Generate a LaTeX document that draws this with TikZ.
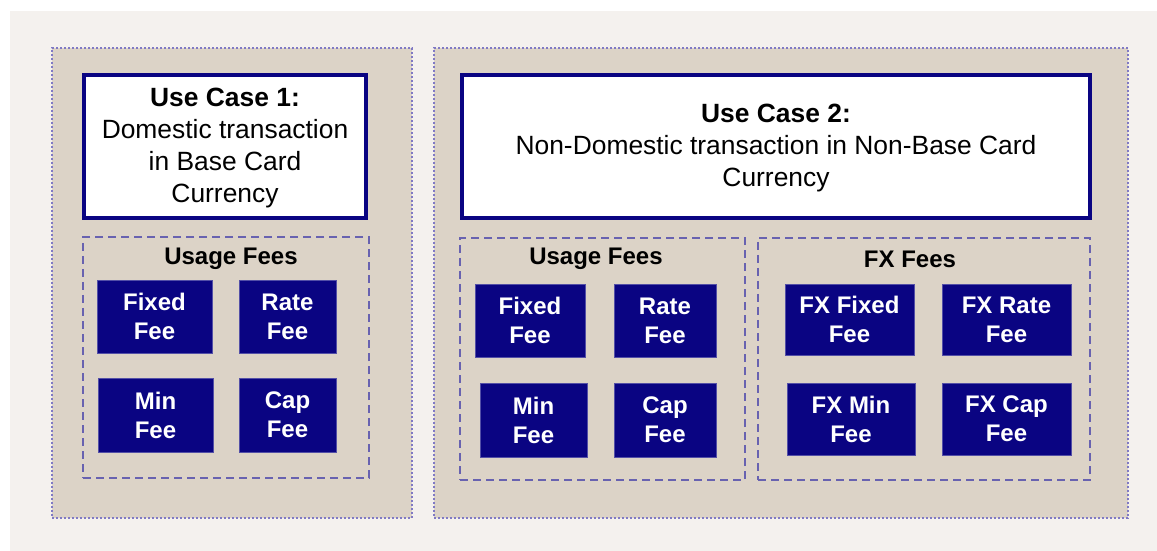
\documentclass[tikz,border=0pt]{standalone}
\usepackage{fontspec}
\setmainfont{Liberation Sans}
\usetikzlibrary{positioning}

\definecolor{navy}{RGB}{10,4,130}
\definecolor{panelfill}{RGB}{220,211,199}
\definecolor{pagefill}{RGB}{244,241,238}
\definecolor{dotline}{RGB}{128,122,196}
\definecolor{dashline}{RGB}{104,98,176}

\begin{document}
\begin{tikzpicture}[x=0.5pt,y=-0.5pt,
		panel/.style={rectangle,draw=dotline,densely dotted,line width=1pt,fill=panelfill},
		usecase/.style={rectangle,draw=navy,line width=2pt,fill=white,align=center,
			font=\fontsize{13.2}{16}\selectfont},
		group/.style={rectangle,draw=dashline,dashed,dash pattern=on 4pt off 2.5pt,line width=0.7pt},
		grouptitle/.style={font=\fontsize{12}{14}\selectfont\bfseries,inner sep=0pt},
		fee/.style={rectangle,draw=navy!70!white,line width=0.4pt,fill=navy,text=white,align=center,
			inner sep=0pt,font=\fontsize{12}{14.5}\selectfont\bfseries}]
		\useasboundingbox (0,0) rectangle (1157,551);
		\fill[white] (0,0) rectangle (1157,551);
		\fill[pagefill] (10,11) rectangle (1157,551);

		% use case 1
		\node[panel,minimum width=180pt,minimum height=235pt] (p1) at (232,283) {};
		\node[usecase,minimum width=141pt,minimum height=71.5pt] (uc1) at (225,146.5) {};
		\node[align=center,font=\fontsize{13.2}{16}\selectfont] (uc1text) at (225,148)
			{\textbf{Use Case 1:}\\Domestic transaction\\in Base Card\\Currency};
		\node[group,minimum width=143pt,minimum height=120.5pt] (g1) at (226,357.5) {};
		\node[grouptitle] (t1) at (231,259) {Usage Fees};
		\node[fee,minimum width=57.5pt,minimum height=36.5pt] (fixed1) at (154.5,316.5) {Fixed\\Fee};
		\node[fee,minimum width=48.5pt,minimum height=36.5pt] (rate1) at (287.5,316.5) {Rate\\Fee};
		\node[fee,minimum width=57.5pt,minimum height=37pt] (min1) at (155.5,415) {Min\\Fee};
		\node[fee,minimum width=48.5pt,minimum height=37pt] (cap1) at (287.5,415) {Cap\\Fee};

		% use case 2
		\node[panel,minimum width=347pt,minimum height=235pt] (p2) at (781,283) {};
		\node[usecase,minimum width=314pt,minimum height=71.5pt] (uc2) at (776,146.5) {};
		\node[align=center,font=\fontsize{13.2}{16}\selectfont] (uc2text) at (776,148.5)
			{\textbf{Use Case 2:}\\Non-Domestic transaction in Non-Base Card\\Currency};
		\node[group,minimum width=142.5pt,minimum height=121pt] (g2) at (602.5,359) {};
		\node[grouptitle] (t2) at (596,259) {Usage Fees};
		\node[fee,minimum width=55pt,minimum height=36.5pt] (fixed2) at (530,320.5) {Fixed\\Fee};
		\node[fee,minimum width=51pt,minimum height=36.5pt] (rate2) at (665,320.5) {Rate\\Fee};
		\node[fee,minimum width=53.5pt,minimum height=37pt] (min2) at (533.5,420) {Min\\Fee};
		\node[fee,minimum width=51pt,minimum height=37pt] (cap2) at (665,420) {Cap\\Fee};

		\node[group,minimum width=166pt,minimum height=121pt] (g3) at (924,359) {};
		\node[grouptitle] (t3) at (910,259) {FX Fees};
		\node[fee,minimum width=64.5pt,minimum height=35.5pt] (fxfixed) at (849.5,319.5) {FX Fixed\\Fee};
		\node[fee,minimum width=64.5pt,minimum height=35.5pt] (fxrate) at (1006.5,319.5) {FX Rate\\Fee};
		\node[fee,minimum width=64pt,minimum height=36pt] (fxmin) at (851,419) {FX Min\\Fee};
		\node[fee,minimum width=64.5pt,minimum height=36pt] (fxcap) at (1006.5,419) {FX Cap\\Fee};
\end{tikzpicture}
\end{document}
